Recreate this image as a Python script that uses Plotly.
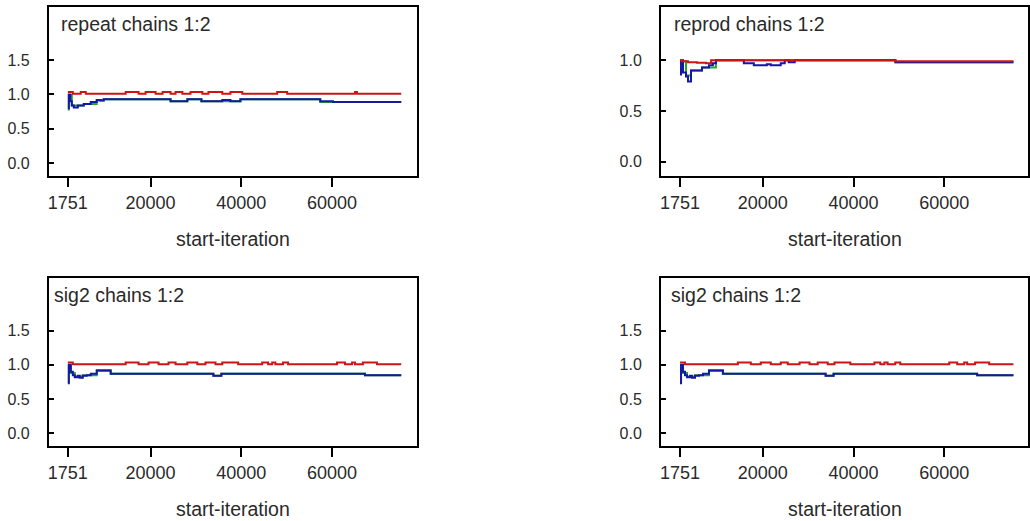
import plotly.graph_objects as go

# Brooks-Gelman-Rubin convergence traces, two chains, burn-in ends at 1751
W, H = 1030, 521

tick_iters = [1751, 20000, 40000, 60000]
tick_iter_text = ["1751", "20000", "40000", "60000"]
tick_y_full = [0.0, 0.5, 1.0, 1.5]
tick_y_full_text = ["0.0", "0.5", "1.0", "1.5"]
tick_y_short = [0.0, 0.5, 1.0]
tick_y_short_text = ["0.0", "0.5", "1.0"]

# ---- repeat ----
repeat_red_iter = [1751, 2850, 4600, 5700, 14500, 17350, 18900, 21100, 22650, 24400, 25500, 27000,
                   28800, 31400, 32750, 35800, 37600, 40200, 47900, 50100, 65050, 65500, 75250]
repeat_red_val = [1.035, 1.01, 1.035, 1.01, 1.035, 1.01, 1.035, 1.01, 1.035, 1.01, 1.035, 1.01,
                  1.035, 1.01, 1.035, 1.01, 1.035, 1.01, 1.035, 1.01, 1.035, 1.01, 1.01]
repeat_blue_iter = [1751, 1970, 2300, 2630, 3070, 3950, 5270, 6800, 8120, 9000, 9660, 24400,
                    28100, 31200, 35800, 37600, 39800, 57400, 60200, 75250]
repeat_blue_val = [0.80, 1.00, 0.90, 0.84, 0.81, 0.84, 0.86, 0.89, 0.92, 0.91, 0.93, 0.90,
                   0.93, 0.90, 0.92, 0.90, 0.93, 0.90, 0.89, 0.89]
repeat_green_iter = [1751, 1970, 2630, 5270, 8120, 9660, 24400, 28100, 31200, 39800, 57400, 75250]
repeat_green_val = [0.78, 0.99, 0.84, 0.86, 0.91, 0.93, 0.90, 0.93, 0.90, 0.93, 0.89, 0.89]

# ---- reprod ----
reprod_red_iter = [1751, 2200, 3500, 5500, 7500, 8600, 49200, 75250]
reprod_red_val = [1.00, 0.99, 0.98, 0.975, 0.97, 1.00, 0.99, 0.99]
reprod_blue_iter = [1751, 1970, 2410, 3070, 3510, 4170, 6590, 8125, 9000, 9660, 15820, 18020,
                    20880, 21750, 23950, 24830, 25710, 27030, 49230, 75250]
reprod_blue_val = [0.86, 1.00, 0.88, 0.84, 0.79, 0.90, 0.93, 0.95, 0.97, 1.00, 0.97, 0.95,
                   0.96, 0.95, 0.97, 1.00, 0.98, 1.00, 0.98, 0.98]
reprod_green_iter = [1751, 1970, 3070, 4170, 6590, 9660, 49230, 75250]
reprod_green_val = [0.87, 0.99, 0.85, 0.90, 0.93, 1.00, 0.98, 0.98]

# ---- sig2 ----
sig2_red_iter = [1751, 2850, 14500, 17350, 19550, 21750, 23950, 25500, 28100, 30300, 32100, 34300,
                 35800, 39300, 44600, 45900, 46800, 47500, 49200, 50300, 61100, 62850, 64400,
                 65050, 66800, 69900, 75250]
sig2_red_val = [1.035, 1.01, 1.035, 1.01, 1.035, 1.01, 1.035, 1.01, 1.035, 1.01, 1.035, 1.01,
                1.035, 1.01, 1.035, 1.01, 1.035, 1.01, 1.035, 1.01, 1.035, 1.01, 1.035,
                1.01, 1.035, 1.01, 1.01]
sig2_blue_iter = [1751, 1970, 2410, 2850, 3290, 3950, 4390, 5050, 5930, 6810, 8130, 11200,
                  33840, 35600, 67250, 75250]
sig2_blue_val = [0.73, 1.00, 0.90, 0.85, 0.82, 0.84, 0.81, 0.84, 0.85, 0.87, 0.92, 0.87,
                 0.84, 0.87, 0.85, 0.85]
sig2_green_iter = [1751, 1970, 2410, 3290, 5050, 8130, 11200, 33840, 35600, 67250, 75250]
sig2_green_val = [0.75, 0.98, 0.88, 0.83, 0.85, 0.91, 0.87, 0.84, 0.87, 0.85, 0.85]

RED, BLUE, GREEN = "#cc1414", "#1616a8", "#22aa22"
TXT = "#2a2a2a"
FONT = "Liberation Sans, Arial, sans-serif"


def xd(left, right):
    return [left / W, min(right / W, 1.0)]


def yd(top, bottom):
    return [1 - bottom / H, 1 - top / H]


panels = [
    dict(name="repeat chains 1:2", x=(48, 417), y=(7, 176), yr=[-0.185, 2.27], xr=[-2430, 78680],
         yt=(tick_y_full, tick_y_full_text), inset=10,
         red=(repeat_red_iter, repeat_red_val), blue=(repeat_blue_iter, repeat_blue_val),
         green=(repeat_green_iter, repeat_green_val)),
    dict(name="reprod chains 1:2", x=(662, 1031), y=(7, 176), yr=[-0.14, 1.525], xr=[-2430, 78460],
         yt=(tick_y_short, tick_y_short_text), inset=11,
         red=(reprod_red_iter, reprod_red_val), blue=(reprod_blue_iter, reprod_blue_val),
         green=(reprod_green_iter, reprod_green_val)),
    dict(name="sig2 chains 1:2", x=(48, 417), y=(278, 446), yr=[-0.186, 2.27], xr=[-2430, 78680],
         yt=(tick_y_full, tick_y_full_text), inset=3,
         red=(sig2_red_iter, sig2_red_val), blue=(sig2_blue_iter, sig2_blue_val),
         green=(sig2_green_iter, sig2_green_val)),
    dict(name="sig2 chains 1:2", x=(662, 1031), y=(278, 446), yr=[-0.186, 2.27], xr=[-2430, 78460],
         yt=(tick_y_full, tick_y_full_text), inset=8,
         red=(sig2_red_iter, sig2_red_val), blue=(sig2_blue_iter, sig2_blue_val),
         green=(sig2_green_iter, sig2_green_val)),
]

fig = go.Figure()
layout = dict(
    width=W, height=H, margin=dict(l=0, r=0, t=0, b=0),
    paper_bgcolor="white", plot_bgcolor="white", showlegend=False,
    font=dict(family=FONT, color=TXT),
)
annotations = []

for i, p in enumerate(panels, start=1):
    xa = "x" if i == 1 else f"x{i}"
    ya = "y" if i == 1 else f"y{i}"
    for key, col in (("green", GREEN), ("blue", BLUE), ("red", RED)):
        xs, ys = p[key]
        fig.add_trace(go.Scatter(x=xs, y=ys, mode="lines", xaxis=xa, yaxis=ya,
                                 line=dict(color=col, width=2, shape="hv"),
                                 hoverinfo="skip"))
    layout["xaxis" if i == 1 else f"xaxis{i}"] = dict(
        domain=xd(*p["x"]), range=p["xr"], anchor=ya,
        tickvals=tick_iters, ticktext=tick_iter_text,
        ticks="outside", ticklen=9, tickwidth=1.5, tickcolor="black",
        tickfont=dict(size=18, family=FONT, color=TXT),
        showline=True, linecolor="black", linewidth=2, mirror=True,
        showgrid=False, zeroline=False,
    )
    layout["yaxis" if i == 1 else f"yaxis{i}"] = dict(
        domain=yd(*p["y"]), range=p["yr"], anchor=xa,
        tickvals=p["yt"][0], ticktext=p["yt"][1],
        ticks="inside", ticklen=5, tickwidth=1.5, tickcolor="black",
        tickfont=dict(size=16, family=FONT, color=TXT), ticklabelstandoff=14,
        showline=True, linecolor="black", linewidth=2, mirror=True,
        showgrid=False, zeroline=False,
    )
    left, right = p["x"]
    top, bottom = p["y"]
    annotations.append(dict(
        text=p["name"], x=(left + p["inset"]) / W, y=1 - (top + 17) / H,
        xref="paper", yref="paper", xanchor="left", yanchor="middle",
        showarrow=False, font=dict(size=19.5, family=FONT, color=TXT),
    ))
    annotations.append(dict(
        text="start-iteration", x=(left + 184.5) / W, y=1 - (bottom + 63) / H,
        xref="paper", yref="paper", xanchor="center", yanchor="middle",
        showarrow=False, font=dict(size=19.5, family=FONT, color=TXT),
    ))

layout["annotations"] = annotations
fig.update_layout(**layout)
fig.write_html("out.html")
